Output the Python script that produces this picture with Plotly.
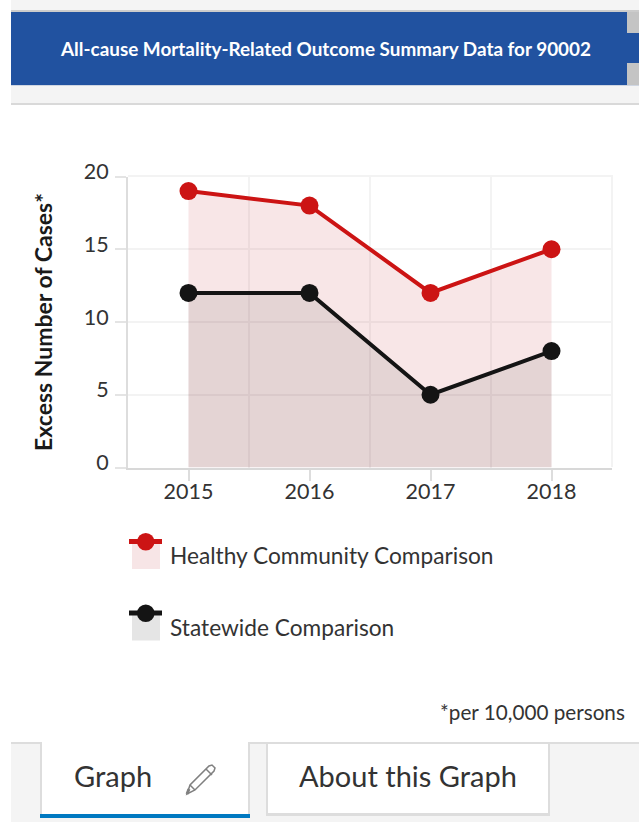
import plotly.graph_objects as go

years = ["2015", "2016", "2017", "2018"]
healthy = [19, 18, 12, 15]
statewide = [12, 12, 5, 8]
y_ticks = [0, 5, 10, 15, 20]
header_text = "All-cause Mortality-Related Outcome Summary Data for 90002"
y_title = "Excess Number of Cases*"
healthy_name = "Healthy Community Comparison"
statewide_name = "Statewide Comparison"
footnote = "*per 10,000 persons"
tab_labels = ["Graph", "About this Graph"]

W, H = 639, 822
FONT = "Lato"
TXT = "#333333"
RED = "#cc1414"
BLK = "#141414"
GRID = "#f3f3f3"


def fx(x):
    return x / W


def fy(y):
    return 1 - y / H


shapes = []


def rect(x0, y0, x1, y1, color):
    shapes.append(dict(type="rect", xref="paper", yref="paper", x0=fx(x0), x1=fx(x1),
                       y0=fy(y0), y1=fy(y1), fillcolor=color, line_width=0, layer="below"))


# header chrome
rect(11, 0, 639, 10, "#f4f4f4")
rect(11, 10, 639, 12, "#cccccc")
rect(11, 12, 627, 85, "#2152a0")
rect(627, 33, 639, 63, "#2152a0")
rect(627, 12, 639, 33, "#c4c4c4")
rect(627, 63, 639, 85, "#c4c4c4")
rect(11, 85, 639, 86, "#cfd6e2")
rect(11, 86, 639, 103, "#f4f4f4")
rect(11, 103, 639, 105, "#d9d9d9")

# tab bar
rect(11, 743, 639, 822, "#f4f4f4")
rect(11, 742, 41, 744, "#dddddd")
rect(249, 742, 639, 744, "#dddddd")
rect(40, 742, 42, 815, "#dddddd")
rect(248, 742, 250, 815, "#dddddd")
rect(42, 742, 248, 815, "#ffffff")
rect(40, 814, 250, 818, "#0079c1")
rect(266, 743, 550, 816, "#dddddd")
rect(268, 744, 548, 813, "#ffffff")

# plot frame: top and right edges
rect(128, 175, 613, 177, GRID)
rect(611, 175, 613, 467, GRID)

# legend swatches
for y_top, fill, col in [(536, "#f7e5e6", RED), (607.5, "#e5e5e5", BLK)]:
    rect(132, y_top + 6, 160, y_top + 33, fill)
    rect(129, y_top + 3, 162, y_top + 8, col)
    shapes.append(dict(type="circle", xref="paper", yref="paper",
                       x0=fx(137), x1=fx(154.5), y0=fy(y_top - 3), y1=fy(y_top + 14.5),
                       fillcolor=col, line_width=0, layer="below"))

# pencil icon
pts = [(187, 794), (190, 785), (209, 766), (212, 765), (215, 768), (214, 771), (195, 790)]
path = "M " + " L ".join(f"{fx(a):.5f},{fy(b):.5f}" for a, b in pts) + " Z"
shapes.append(dict(type="path", xref="paper", yref="paper", path=path,
                   fillcolor="rgba(0,0,0,0)", line=dict(color="#808080", width=1.5), layer="below"))
shapes.append(dict(type="line", xref="paper", yref="paper", x0=fx(190), y0=fy(785), x1=fx(195), y1=fy(790),
                   line=dict(color="#808080", width=1.5), layer="below"))
shapes.append(dict(type="line", xref="paper", yref="paper", x0=fx(206), y0=fy(769), x1=fx(212), y1=fy(775),
                   line=dict(color="#808080", width=1.5), layer="below"))
shapes.append(dict(type="line", xref="paper", yref="paper", x0=fx(187), y0=fy(794), x1=fx(189), y1=fy(789),
                   line=dict(color="#808080", width=3), layer="below"))


def note(text, x, y, size, color=TXT, anchor="left", font=FONT, bold=False):
    return dict(text=f"<b>{text}</b>" if bold else text, xref="paper", yref="paper",
                x=fx(x), y=fy(y), xanchor=anchor, yanchor="middle", showarrow=False,
                font=dict(family=font, size=size, color=color))


annotations = [
    note(header_text, 325.5, 49, 18.9, "#ffffff", "center", bold=True),
    note(healthy_name, 168, 555, 22.7, anchor="left"),
    note(statewide_name, 168, 627, 22.7, anchor="left"),
    note(footnote, 627, 712, 20.7, anchor="right"),
    note(tab_labels[0], 113, 775, 29, anchor="center"),
    note(tab_labels[1], 408, 775, 29, anchor="center"),
]

fig = go.Figure()
fig.add_trace(go.Scatter(x=years, y=healthy, name=healthy_name, mode="lines+markers",
                         fill="tozeroy", fillcolor="rgba(190,25,35,0.11)",
                         line=dict(color=RED, width=4), marker=dict(size=18, color=RED),
                         showlegend=False, hoverinfo="x+y"))
fig.add_trace(go.Scatter(x=years, y=statewide, name=statewide_name, mode="lines+markers",
                         fill="tozeroy", fillcolor="rgba(0,0,0,0.08)",
                         line=dict(color=BLK, width=4), marker=dict(size=18, color=BLK),
                         showlegend=False, hoverinfo="x+y"))
# carries the second x axis, which draws the ticks and labels at category centres
fig.add_trace(go.Scatter(x=years, y=[None] * len(years), xaxis="x2", mode="lines",
                         showlegend=False, hoverinfo="skip"))

fig.update_layout(
    width=W, height=H, margin=dict(l=0, r=0, t=0, b=0, autoexpand=False), autosize=False,
    paper_bgcolor="#ffffff", plot_bgcolor="rgba(0,0,0,0)",
    font=dict(family=FONT, color=TXT),
    shapes=shapes, annotations=annotations,
    xaxis=dict(type="category", categoryorder="array", categoryarray=years,
               domain=[fx(128), fx(612)], range=[-0.5, 3.5], tickson="boundaries",
               showgrid=True, gridcolor=GRID, gridwidth=2, ticks="",
               showticklabels=False, showline=False, zeroline=False, fixedrange=True, anchor="y"),
    xaxis2=dict(type="category", categoryorder="array", categoryarray=years,
                domain=[fx(128), fx(612)], range=[-0.5, 3.5], overlaying="x", side="bottom", anchor="y",
                showgrid=False, ticks="outside", ticklen=11, tickwidth=2, tickcolor="#dddddd",
                showline=True, linecolor="#d8d8d8", linewidth=2,
                tickfont=dict(family=FONT, size=21.5, color=TXT), ticklabelstandoff=-7, fixedrange=True),
    yaxis=dict(domain=[fy(467.5), fy(176.5)], range=[0, 20], tickvals=y_ticks,
               showgrid=True, gridcolor=GRID, gridwidth=2, zeroline=False,
               showline=True, linecolor="#dddddd", linewidth=2,
               ticks="outside", ticklen=11, tickwidth=2, tickcolor="#e4e4e4",
               tickfont=dict(family=FONT, size=21.5, color=TXT), ticklabelshift=-5, ticklabelstandoff=2,
               title=dict(text=f"<b>{y_title}</b>", font=dict(family=FONT, size=23, color="#1a1a1a"), standoff=25),
               fixedrange=True),
)

fig.write_html("out.html", config=dict(displayModeBar=False),
               post_script="document.body.style.margin='0';")
